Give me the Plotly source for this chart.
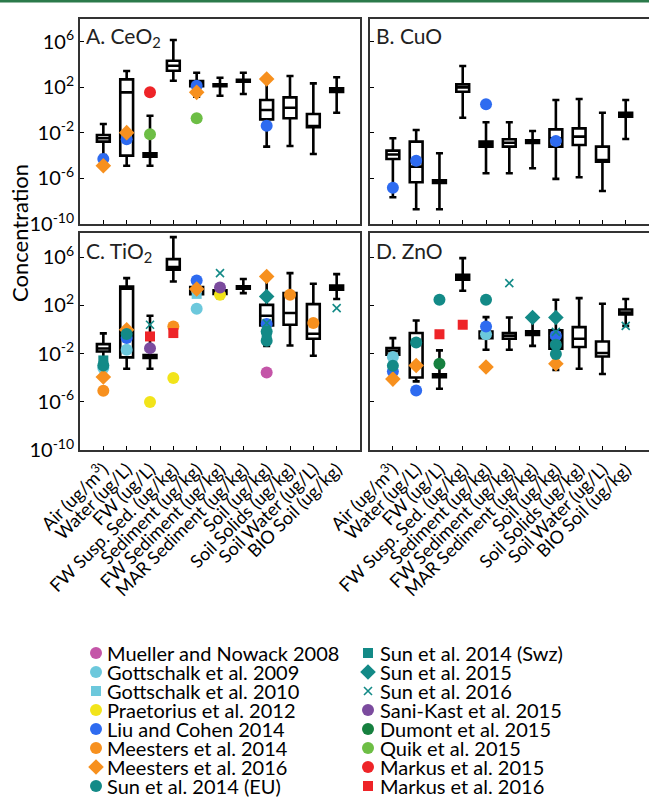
import plotly.graph_objects as go

# ---------------- data (values are log10 of concentration) ----------------
categories = ["Air (ug/m<sup>3</sup>)", "Water (ug/L)", "FW (ug/L)", "FW Susp. Sed. (ug/kg)",
              "Sediment (ug/kg)", "FW Sediment (ug/kg)", "MAR Sediment (ug/kg)", "Soil (ug/kg)",
              "Soil Solids (ug/kg)", "Soil Water (ug/L)", "BIO Soil (ug/kg)"]

panel_titles = ["A. CeO<sub>2</sub>", "B. CuO", "C. TiO<sub>2</sub>", "D. ZnO"]

# box statistics per panel: low whisker, q1, median, q3, high whisker
A_lo  = [-3.94, -4.88, -4.88, 2.58, 1.18, 1.26, 1.41, -3.21, -3.15, -3.85, -0.23]
A_q1  = [-2.77, -4.00, -4.08, 3.46, 2.11, 2.10, 2.50, -0.81, -0.72, -1.51, 1.59]
A_med = [-2.47, 1.56, -3.94, 3.90, 2.30, 2.18, 2.58, 0.01, 0.21, -1.40, 1.76]
A_q3  = [-2.18, 2.70, -3.80, 4.33, 2.55, 2.26, 2.66, 0.89, 1.12, -0.34, 1.91]
A_hi  = [-1.22, 3.43, -0.49, 6.15, 3.28, 2.84, 3.28, 2.64, 2.99, 2.35, 2.88]

B_lo  = [-7.65, -8.70, -8.70, -0.67, -5.54, -5.54, -5.10, -6.04, -5.89, -7.10, -2.54]
B_q1  = [-4.29, -6.33, -6.40, 1.61, -3.21, -3.21, -2.88, -3.21, -3.06, -4.53, -0.58]
B_med = [-3.90, -4.96, -6.28, 2.00, -3.00, -2.86, -2.77, -2.47, -2.33, -4.38, -0.40]
B_q3  = [-3.56, -2.77, -6.16, 2.26, -2.77, -2.56, -2.66, -1.69, -1.60, -3.21, -0.23]
B_hi  = [-2.47, -1.75, -3.79, 3.87, -1.07, -1.07, -1.83, 0.89, 0.97, -0.23, 0.89]

C_lo  = [-2.52, -3.26, -3.26, 3.98, 2.73, 2.60, 3.01, -1.36, -1.33, -2.18, 2.52]
C_q1  = [-1.83, -2.32, -2.36, 4.95, 2.93, 2.95, 3.38, 0.33, 0.39, -0.77, 3.29]
C_med = [-1.58, 3.37, -2.24, 5.17, 3.29, 3.10, 3.48, 1.13, 1.36, -0.36, 3.48]
C_q3  = [-1.22, 3.56, -2.12, 5.83, 3.51, 3.25, 3.58, 2.04, 3.01, 2.10, 3.64]
C_hi  = [-0.33, 4.26, 1.13, 7.66, 3.90, 3.40, 4.18, 4.30, 4.67, 3.79, 4.59]

D_lo  = [-3.00, -4.31, -4.92, 3.21, -1.69, -1.69, -1.36, -3.35, -3.26, -3.70, 0.30]
D_q1  = [-2.10, -3.98, -3.96, 4.12, -0.72, -0.77, -0.45, -1.60, -1.46, -2.24, 1.24]
D_med = [-1.80, -2.90, -3.84, 4.33, -0.50, -0.52, -0.30, -0.90, -0.77, -1.96, 1.41]
D_q3  = [-1.55, -0.30, -3.72, 4.53, -0.17, -0.30, -0.15, -0.08, 0.19, -1.00, 1.66]
D_hi  = [-0.72, 0.74, -1.74, 5.92, 1.02, 0.99, 0.80, 2.46, 2.60, 2.13, 2.52]

# study legend: names, colours, marker symbols
studies = ["Mueller and Nowack 2008", "Gottschalk et al. 2009", "Gottschalk et al. 2010",
           "Praetorius et al. 2012", "Liu and Cohen 2014", "Meesters et al. 2014",
           "Meesters et al. 2016", "Sun et al. 2014 (EU)", "Sun et al. 2014 (Swz)",
           "Sun et al. 2015", "Sun et al. 2016", "Sani-Kast et al. 2015", "Dumont et al. 2015",
           "Quik et al. 2015", "Markus et al. 2015", "Markus et al. 2016"]
study_colors = ["#C455A8", "#6CC8DC", "#6CC8DC", "#F2E41A", "#2E6BF0", "#F7901E",
                "#F7901E", "#138A87", "#138A87", "#138A87", "#138A87", "#7B4B9E",
                "#16803F", "#6DBE45", "#EE2428", "#EE2428"]
study_symbols = ["circle", "circle", "square", "circle", "circle", "circle",
                 "diamond", "circle", "square", "diamond", "x-thin-open", "circle",
                 "circle", "circle", "circle", "square"]

# individual study estimates per panel: (study, category index, log10 value)
A_points = [("Liu and Cohen 2014", 0, -4.29), ("Meesters et al. 2016", 0, -4.88),
            ("Meesters et al. 2016", 1, -1.98), ("Liu and Cohen 2014", 1, -2.56),
            ("Markus et al. 2015", 2, 1.56), ("Quik et al. 2015", 2, -2.12),
            ("Liu and Cohen 2014", 4, 2.14), ("Meesters et al. 2016", 4, 1.56),
            ("Quik et al. 2015", 4, -0.72),
            ("Meesters et al. 2016", 7, 2.73), ("Liu and Cohen 2014", 7, -1.37)]
B_points = [("Liu and Cohen 2014", 0, -6.81), ("Liu and Cohen 2014", 1, -4.44),
            ("Liu and Cohen 2014", 4, 0.51), ("Liu and Cohen 2014", 7, -2.71)]
C_points = [("Gottschalk et al. 2009", 0, -3.20), ("Sun et al. 2014 (Swz)", 0, -2.57),
            ("Sun et al. 2014 (EU)", 0, -2.99), ("Meesters et al. 2016", 0, -3.95),
            ("Meesters et al. 2014", 0, -5.09),
            ("Gottschalk et al. 2009", 1, -1.69), ("Liu and Cohen 2014", 1, -0.72),
            ("Sun et al. 2014 (EU)", 1, -0.38), ("Meesters et al. 2016", 1, -0.03),
            ("Sun et al. 2016", 2, 0.39), ("Markus et al. 2016", 2, -0.58),
            ("Sani-Kast et al. 2015", 2, -1.55), ("Praetorius et al. 2012", 2, -6.02),
            ("Meesters et al. 2014", 3, 0.25), ("Markus et al. 2016", 3, -0.30),
            ("Praetorius et al. 2012", 3, -4.03),
            ("Gottschalk et al. 2010", 4, 2.95), ("Gottschalk et al. 2009", 4, 1.71),
            ("Liu and Cohen 2014", 4, 4.06), ("Meesters et al. 2016", 4, 3.35),
            ("Sun et al. 2016", 5, 4.67), ("Praetorius et al. 2012", 5, 2.87),
            ("Sani-Kast et al. 2015", 5, 3.48),
            ("Meesters et al. 2016", 7, 4.39), ("Sun et al. 2015", 7, 2.73),
            ("Liu and Cohen 2014", 7, 0.45), ("Sun et al. 2016", 7, 0.53),
            ("Sun et al. 2014 (Swz)", 7, -0.44), ("Sun et al. 2014 (EU)", 7, -0.17),
            ("Sun et al. 2014 (EU)", 7, -0.94), ("Mueller and Nowack 2008", 7, -3.57),
            ("Meesters et al. 2014", 8, 2.87), ("Meesters et al. 2014", 9, 0.53),
            ("Sun et al. 2016", 10, 1.77)]
D_points = [("Gottschalk et al. 2009", 0, -2.29), ("Liu and Cohen 2014", 0, -3.49),
            ("Sun et al. 2014 (EU)", 0, -3.01), ("Meesters et al. 2016", 0, -4.12),
            ("Sun et al. 2014 (EU)", 1, -1.08), ("Meesters et al. 2016", 1, -2.99),
            ("Liu and Cohen 2014", 1, -5.06),
            ("Sun et al. 2014 (EU)", 2, 2.46), ("Markus et al. 2016", 2, -0.39),
            ("Sun et al. 2016", 2, -0.39), ("Dumont et al. 2015", 2, -2.85),
            ("Markus et al. 2016", 3, 0.39),
            ("Sun et al. 2014 (EU)", 4, 2.46), ("Gottschalk et al. 2009", 4, -0.39),
            ("Liu and Cohen 2014", 4, 0.25), ("Meesters et al. 2016", 4, -3.12),
            ("Sun et al. 2016", 5, 3.84), ("Sun et al. 2015", 6, 0.99),
            ("Sun et al. 2015", 7, 0.99), ("Sun et al. 2016", 7, -0.20),
            ("Sun et al. 2014 (EU)", 7, -1.27), ("Sun et al. 2014 (EU)", 7, -2.04),
            ("Liu and Cohen 2014", 7, -0.53), ("Meesters et al. 2016", 7, -2.85),
            ("Sun et al. 2016", 10, 0.30)]

y_tick_exps = [-10, -6, -2, 2, 6]

# ---------------- figure ----------------
W, H = 649, 798
FONT = "Lato"
fig = go.Figure()

panels = [
    ("x", "y", (A_lo, A_q1, A_med, A_q3, A_hi), A_points),
    ("x2", "y2", (B_lo, B_q1, B_med, B_q3, B_hi), B_points),
    ("x3", "y3", (C_lo, C_q1, C_med, C_q3, C_hi), C_points),
    ("x4", "y4", (D_lo, D_q1, D_med, D_q3, D_hi), D_points),
]

size_of = {"circle": 12, "square": 10, "diamond": 12, "x-thin-open": 8}


def marker_for(col, sym):
    m = dict(color=col, symbol=sym, size=size_of[sym])
    if sym.startswith("x"):
        m["line"] = dict(color=col, width=1.6)
    else:
        m["line"] = dict(width=0)
    return m


for xa, ya, stats, pts in panels:
    lo, q1, med, q3, hi = stats
    idx = list(range(len(categories)))
    fig.add_trace(go.Box(
        x=idx, lowerfence=[10 ** v for v in lo], q1=[10 ** v for v in q1],
        median=[10 ** v for v in med], q3=[10 ** v for v in q3],
        upperfence=[10 ** v for v in hi],
        xaxis=xa, yaxis=ya, fillcolor="white",
        line=dict(color="black", width=2.6), width=0.55, whiskerwidth=0.55,
        boxpoints=False, showlegend=False, hoverinfo="skip"))
    for s, col, sym in zip(studies, study_colors, study_symbols):
        sel = [(c, v) for (n, c, v) in pts if n == s]
        if not sel:
            continue
        fig.add_trace(go.Scatter(
            x=[c for c, _ in sel], y=[10 ** v for _, v in sel], mode="markers",
            marker=marker_for(col, sym), xaxis=xa, yaxis=ya, showlegend=False, name=s))


# domains from pixel geometry
def fx(px):
    return px / W


def fy(py):
    return 1 - py / H


xdomA = [fx(80), fx(360)]
xdomB = [fx(369.6), 1.0]
ydomTop = [fy(224), fy(19)]
ydomBot = [fy(450), fy(233)]

axis_common = dict(showgrid=False, zeroline=False, showline=True, mirror=True,
                   linecolor="#333333", linewidth=1.8, ticks="inside", ticklen=4,
                   tickwidth=1.4, tickcolor="black", automargin=False)

xcommon = dict(axis_common, range=[-1, 11], tickmode="array",
               tickvals=list(range(len(categories))), ticktext=categories)
ycommon = dict(axis_common, type="log", range=[-10, 8], tickmode="array",
               tickvals=[10 ** e for e in y_tick_exps],
               ticktext=["10<sup>%d</sup>" % e for e in y_tick_exps],
               tickfont=dict(size=20, color="black", family=FONT))
xlab_font = dict(size=18, color="black", family=FONT)

fig.update_layout(
    template="none",
    xaxis=dict(xcommon, domain=xdomA, anchor="y", showticklabels=False),
    yaxis=dict(ycommon, domain=ydomTop, anchor="x"),
    xaxis2=dict(xcommon, domain=xdomB, anchor="y2", showticklabels=False),
    yaxis2=dict(ycommon, domain=ydomTop, anchor="x2", showticklabels=False),
    xaxis3=dict(xcommon, domain=xdomA, anchor="y3", tickangle=-45, tickfont=xlab_font),
    yaxis3=dict(ycommon, domain=ydomBot, anchor="x3"),
    xaxis4=dict(xcommon, domain=xdomB, anchor="y4", tickangle=-45, tickfont=xlab_font),
    yaxis4=dict(ycommon, domain=ydomBot, anchor="x4", showticklabels=False),
    # pixel-space overlay axis for legend / labels
    xaxis5=dict(domain=[0, 1], range=[0, W], visible=False, fixedrange=True,
                automargin=False),
    yaxis5=dict(domain=[0, 1], range=[H, 0], visible=False, fixedrange=True,
                anchor="x5", automargin=False),
)

# legend drawn from the study lists
rows_per_col = 8
leg_left_marker, leg_left_text = 96, 105
leg_right_marker, leg_right_text = 368, 378
leg_row0, leg_row_step = 653, 19
for i, (s, col, sym) in enumerate(zip(studies, study_colors, study_symbols)):
    colno, row = divmod(i, rows_per_col)
    mx = leg_left_marker if colno == 0 else leg_right_marker
    tx = leg_left_text if colno == 0 else leg_right_text
    yy = leg_row0 + row * leg_row_step
    fig.add_trace(go.Scatter(x=[mx], y=[yy], mode="markers", marker=marker_for(col, sym),
                             xaxis="x5", yaxis="y5", showlegend=False, hoverinfo="skip"))
    fig.add_annotation(x=tx, y=yy, xref="x5", yref="y5", text=s, showarrow=False,
                       xanchor="left", yanchor="middle",
                       font=dict(size=20, color="black", family=FONT))

# panel titles
title_pos = [(84, 21), (374, 21), (84, 236), (374, 236)]
for t, (px, py) in zip(panel_titles, title_pos):
    fig.add_annotation(x=px, y=py, xref="x5", yref="y5", text=t, showarrow=False,
                       xanchor="left", yanchor="top",
                       font=dict(size=21, color="#222222", family=FONT))

# y-axis title
fig.add_annotation(x=19, y=233, xref="x5", yref="y5", text="Concentration",
                   textangle=-90, showarrow=False, xanchor="center", yanchor="middle",
                   font=dict(size=22, color="black", family=FONT))

# green rule at the top of the page
fig.add_shape(type="rect", xref="x5", yref="y5", x0=0, x1=W, y0=0, y1=2.5,
              fillcolor="#2B7A4B", line=dict(width=0))

fig.update_layout(width=W, height=H, margin=dict(l=0, r=0, t=0, b=0, pad=0),
                  paper_bgcolor="white", plot_bgcolor="rgba(0,0,0,0)",
                  font=dict(family=FONT, color="black"), showlegend=False)

fig.write_html("out.html", config={"displayModeBar": False},
               post_script="document.body.style.margin='0';")
